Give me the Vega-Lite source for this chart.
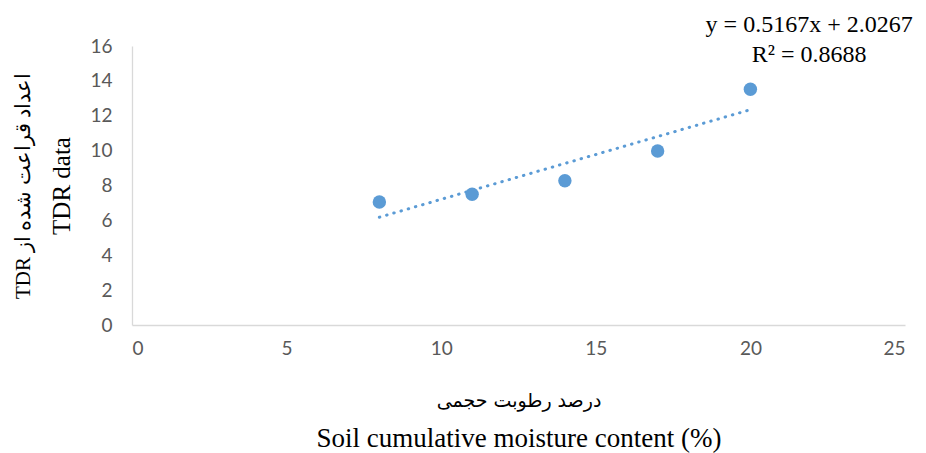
{
  "$schema": "https://vega.github.io/schema/vega-lite/v6.json",
  "width": 773,
  "height": 279,
  "autosize": {"type": "none"},
  "padding": {"left": 132, "top": 46, "right": 21, "bottom": 128},
  "background": "white",
  "config": {"view": {"stroke": null}},
  "data": {
    "values": [
      {"moisture": 8, "tdr": 7.05},
      {"moisture": 11, "tdr": 7.5},
      {"moisture": 14, "tdr": 8.27},
      {"moisture": 17, "tdr": 9.98},
      {"moisture": 20, "tdr": 13.52}
    ]
  },
  "resolve": {"axis": {"x": "independent", "y": "independent"}},
  "layer": [
    {
      "transform": [{"regression": "tdr", "on": "moisture", "extent": [8, 20]}],
      "mark": {"type": "line", "color": "#5B9BD5", "strokeWidth": 3, "strokeDash": [0.5, 7], "strokeCap": "round"},
      "encoding": {
        "x": {
          "field": "moisture", "type": "quantitative",
          "scale": {"domain": [0, 25], "nice": false, "zero": true},
          "axis": {
            "orient": "top", "labels": false, "ticks": false, "domain": false, "grid": false,
            "title": "درصد رطوبت حجمی",
            "titleFont": "DejaVu Sans", "titleFontSize": 19, "titleFontWeight": "normal",
            "titleColor": "#000000", "titleBaseline": "middle", "titleAnchor": "middle",
            "titleY": 354
          }
        },
        "y": {
          "field": "tdr", "type": "quantitative",
          "scale": {"domain": [0, 16], "nice": false},
          "axis": {
            "orient": "right", "labels": false, "ticks": false, "domain": false, "grid": false,
            "title": "TDR اعداد قراعت شده از",
            "titleFont": "Liberation Serif", "titleFontSize": 21, "titleFontWeight": "normal",
            "titleColor": "#000000", "titleBaseline": "middle", "titleAnchor": "middle",
            "titleAngle": -90, "titleX": -882, "titleY": 139.5
          }
        }
      }
    },
    {
      "mark": {"type": "point", "filled": true, "opacity": 1, "color": "#5B9BD5", "size": 180},
      "encoding": {
        "x": {
          "field": "moisture", "type": "quantitative",
          "scale": {"domain": [0, 25], "nice": false, "zero": true},
          "axis": {
            "orient": "bottom",
            "values": [0, 5, 10, 15, 20, 25],
            "grid": false, "ticks": false, "labelOverlap": false,
            "domainColor": "#D9D9D9", "domainWidth": 1.3,
            "labelFont": "Lato", "labelFontSize": 19, "labelColor": "#595959",
            "labelPadding": 14,
            "title": "Soil cumulative moisture content (%)",
            "titleFont": "Liberation Serif", "titleFontSize": 27, "titleFontWeight": "normal",
            "titleColor": "#000000",
            "titleBaseline": "middle", "titleAnchor": "middle", "titleY": 113
          }
        },
        "y": {
          "field": "tdr", "type": "quantitative",
          "scale": {"domain": [0, 16], "nice": false},
          "axis": {
            "orient": "left",
            "values": [0, 2, 4, 6, 8, 10, 12, 14, 16],
            "grid": false, "ticks": false, "labelOverlap": false,
            "domainColor": "#D9D9D9", "domainWidth": 1.3,
            "labelFont": "Lato", "labelFontSize": 19, "labelColor": "#595959",
            "labelPadding": 20,
            "title": "TDR data",
            "titleFont": "Liberation Serif", "titleFontSize": 25, "titleFontWeight": "normal",
            "titleColor": "#000000",
            "titleBaseline": "middle", "titleAnchor": "middle", "titleAngle": -90,
            "titleX": -71, "titleY": 139.5
          }
        }
      }
    },
    {
      "data": {"values": [{"eq": "y = 0.5167x + 2.0267", "r2": "R² = 0.8688"}]},
      "mark": {"type": "text", "font": "Liberation Serif", "fontSize": 24, "fontWeight": "normal", "color": "#000000", "align": "center", "baseline": "middle", "lineHeight": 30, "clip": false},
      "encoding": {
        "x": {"datum": 21.9, "type": "quantitative", "axis": null},
        "y": {"datum": 17.2, "type": "quantitative", "axis": null},
        "text": {"value": ["y = 0.5167x + 2.0267", "R² = 0.8688"]}
      }
    }
  ]
}
